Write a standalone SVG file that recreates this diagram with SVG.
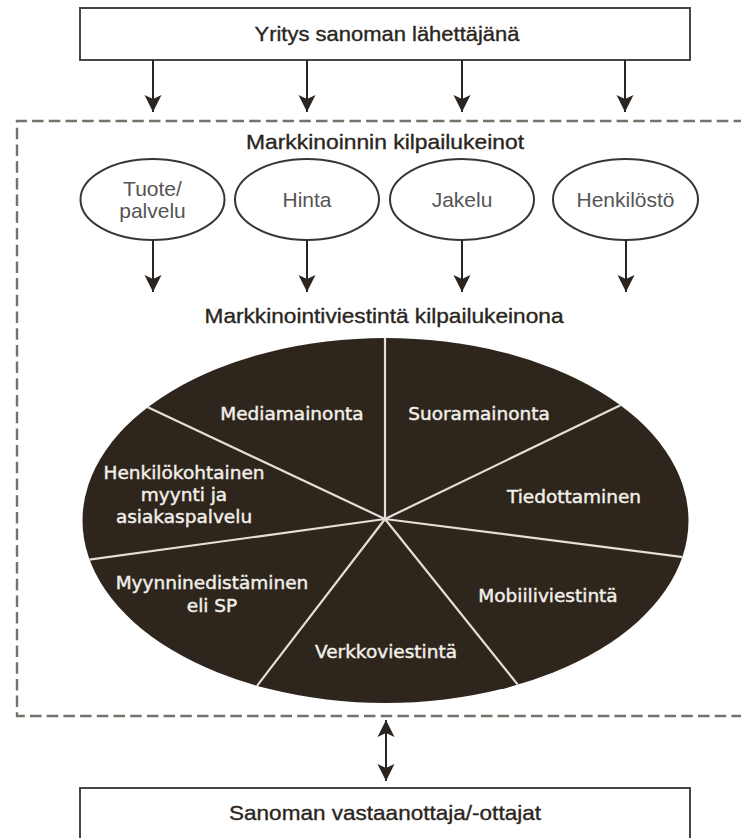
<svg xmlns="http://www.w3.org/2000/svg" width="741" height="838" viewBox="0 0 741 838">
  <defs>
    <marker id="ah" viewBox="-18 -9 18 18" markerWidth="18" markerHeight="18" refX="0" refY="0" orient="auto-start-reverse" markerUnits="userSpaceOnUse">
      <path d="M0,0 L-17,-8.5 L-13,0 L-17,8.5 Z" fill="#2a2520"/>
    </marker>
    <clipPath id="pieclip"><ellipse cx="385.5" cy="520.5" rx="303" ry="182.5"/></clipPath>
  </defs>
  <style>
    .box { fill: #fff; stroke: #4a4540; stroke-width: 2; }
    .hdr { font-family: "Liberation Sans", Arial, sans-serif; font-size: 21px; fill: #2a2520; stroke: #2a2520; stroke-width: 0.35; text-anchor: middle; }
    .oval { fill: #fff; stroke: #3a3530; stroke-width: 2; }
    .olbl { font-family: "Liberation Sans", Arial, sans-serif; font-size: 21px; fill: #555; text-anchor: middle; }
    .arrow { stroke: #2a2520; stroke-width: 2; fill: none; }
    .dash { stroke: #77716a; stroke-width: 2.4; fill: none; stroke-dasharray: 11.5 5.2; }
    .pie { fill: #2e261d; }
    .spoke { stroke: #e4e0d8; stroke-width: 2.2; }
    .plbl { font-family: "DejaVu Sans", Verdana, sans-serif; font-size: 18.5px; fill: #f2efe9; stroke: #f2efe9; stroke-width: 0.45; text-anchor: middle; }
  </style>

  <g id="sender">
    <rect class="box" x="80" y="8" width="610" height="52"/>
    <text class="hdr" x="387" y="41" textLength="265" lengthAdjust="spacingAndGlyphs">Yritys sanoman lähettäjänä</text>
  </g>

  <g id="frame">
    <path class="dash" d="M745,121 H17 V716 H745"/>
    <text class="hdr" x="385" y="149" textLength="278" lengthAdjust="spacingAndGlyphs">Markkinoinnin kilpailukeinot</text>
    <text class="hdr" x="384" y="323" textLength="359" lengthAdjust="spacingAndGlyphs">Markkinointiviestintä kilpailukeinona</text>
  </g>

  <g id="tuote">
    <ellipse class="oval" cx="152.5" cy="199.5" rx="72" ry="40.5"/>
    <text class="olbl" x="152.5" y="196">Tuote/</text>
    <text class="olbl" x="152.5" y="218">palvelu</text>
  </g>
  <g id="hinta">
    <ellipse class="oval" cx="307" cy="199.5" rx="72" ry="40.5"/>
    <text class="olbl" x="307" y="207">Hinta</text>
  </g>
  <g id="jakelu">
    <ellipse class="oval" cx="462" cy="199.5" rx="72" ry="40.5"/>
    <text class="olbl" x="462" y="207">Jakelu</text>
  </g>
  <g id="henkilosto">
    <ellipse class="oval" cx="625.5" cy="199.5" rx="72.5" ry="40.5"/>
    <text class="olbl" x="625.5" y="207">Henkilöstö</text>
  </g>

  <g id="pie">
    <ellipse class="pie" cx="385.5" cy="520.5" rx="303" ry="182.5"/>
    <g clip-path="url(#pieclip)">
      <line class="spoke" x1="385" y1="519" x2="385" y2="330"/>
      <line class="spoke" x1="385" y1="519" x2="623" y2="404"/>
      <line class="spoke" x1="385" y1="519" x2="690" y2="558"/>
      <line class="spoke" x1="385" y1="519" x2="522" y2="690"/>
      <line class="spoke" x1="385" y1="519" x2="253" y2="691"/>
      <line class="spoke" x1="385" y1="519" x2="80" y2="561"/>
      <line class="spoke" x1="385" y1="519" x2="141" y2="404"/>
    </g>
    <text class="plbl" x="292" y="420">Mediamainonta</text>
    <text class="plbl" x="479" y="420">Suoramainonta</text>
    <text class="plbl" x="574" y="503">Tiedottaminen</text>
    <text class="plbl" x="184" y="479">Henkilökohtainen</text>
    <text class="plbl" x="184" y="501">myynti ja</text>
    <text class="plbl" x="184" y="523">asiakaspalvelu</text>
    <text class="plbl" x="212" y="589">Myynninedistäminen</text>
    <text class="plbl" x="212" y="612">eli SP</text>
    <text class="plbl" x="548" y="602">Mobiiliviestintä</text>
    <text class="plbl" x="386" y="658">Verkkoviestintä</text>
  </g>

  <g id="receiver">
    <rect class="box" x="80" y="788" width="610" height="60"/>
    <text class="hdr" x="385" y="820" textLength="312" lengthAdjust="spacingAndGlyphs">Sanoman vastaanottaja/-ottajat</text>
  </g>

  <g id="connectors">
    <line class="arrow" x1="153" y1="60" x2="153" y2="112" marker-end="url(#ah)"/>
    <line class="arrow" x1="307" y1="60" x2="307" y2="112" marker-end="url(#ah)"/>
    <line class="arrow" x1="462" y1="60" x2="462" y2="112" marker-end="url(#ah)"/>
    <line class="arrow" x1="625" y1="60" x2="625" y2="112" marker-end="url(#ah)"/>
    <line class="arrow" x1="153" y1="240" x2="153" y2="292" marker-end="url(#ah)"/>
    <line class="arrow" x1="307" y1="240" x2="307" y2="292" marker-end="url(#ah)"/>
    <line class="arrow" x1="462" y1="240" x2="462" y2="292" marker-end="url(#ah)"/>
    <line class="arrow" x1="626" y1="240" x2="626" y2="292" marker-end="url(#ah)"/>
    <line class="arrow" x1="386" y1="720" x2="386" y2="781" marker-start="url(#ah)" marker-end="url(#ah)"/>
  </g>
</svg>
